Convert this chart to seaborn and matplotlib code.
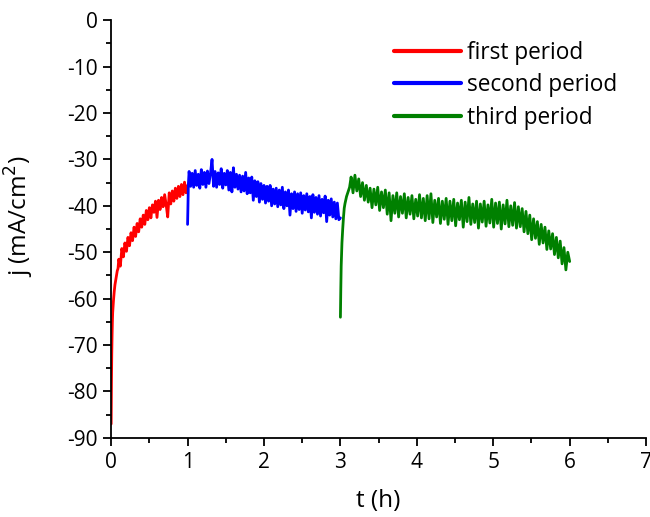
import matplotlib
matplotlib.use("Agg")
import matplotlib.pyplot as plt
from matplotlib.ticker import MultipleLocator
import numpy as np
import pandas as pd
import seaborn as sns

###################### data ######################
# first period: steep early rise, then noisy slow recovery (t in hours)
red_t_early = [0, 0.004, 0.008, 0.012, 0.016, 0.02, 0.03, 0.04, 0.05, 0.06, 0.07, 0.08, 0.09]
red_j_early = [-87, -78, -72, -68, -65, -63, -60.5, -58.5, -57, -56, -55, -54, -53.5]
red_j_late = [-51.5, -53.0, -49.2, -51.0, -48.0, -49.8, -46.8, -48.6, -45.8, -47.5,
              -44.6, -46.6, -43.8, -45.6, -42.8, -44.6, -42.0, -44.0, -41.0, -43.0,
              -40.4, -42.6, -39.8, -41.4, -39.0, -42.5, -38.8, -40.8, -38.2, -40.2,
              -37.6, -39.8, -42.4, -37.2, -39.6, -36.8, -39.0, -36.2, -38.4, -35.8,
              -38.0, -35.4, -37.6, -34.9, -37.2, -35.6]

# second period
blue_t_early = [1.0, 1.005, 1.01]
blue_j_early = [-44, -40, -35.5]
blue_j_late = [-32.6, -35.8, -33.0, -36.0, -32.4, -35.6, -33.2, -36.2, -32.2, -35.4,
               -32.8, -36.0, -32.5, -35.2, -33.0, -30.0, -35.8, -32.6, -36.0, -32.9,
               -35.4, -32.0, -36.2, -33.0, -35.5, -32.4, -36.6, -32.8, -37.0, -31.8,
               -36.0, -33.2, -36.4, -33.4, -37.0, -33.6, -36.8, -32.8, -37.4, -34.0,
               -37.2, -33.8, -38.8, -34.6, -38.0, -34.8, -39.2, -35.2, -38.6, -35.6,
               -39.4, -35.8, -39.0, -35.6, -40.0, -36.4, -39.6, -36.2, -40.2, -36.6,
               -39.8, -36.0, -40.6, -37.0, -40.0, -36.6, -42.0, -37.4, -40.6, -37.0,
               -41.2, -37.4, -40.8, -37.2, -41.6, -37.8, -40.9, -37.4, -41.3, -38.0,
               -42.6, -37.6, -41.4, -38.2, -41.8, -37.8, -42.2, -38.6, -41.5, -37.9,
               -43.4, -38.8, -42.0, -38.5, -42.4, -39.2, -42.8, -39.4, -43.0, -42.6]

# third period
green_t_early = [3.0, 3.005, 3.01, 3.02, 3.03, 3.04, 3.05, 3.06, 3.08, 3.10, 3.12]
green_j_early = [-64, -58, -53, -48, -45, -42.5, -40.5, -39.5, -38, -37, -36]
green_j_late = [-33.8, -37.2, -33.4, -36.8, -34.2, -38.0, -35.0, -38.8, -35.6, -39.2,
                -36.2, -40.4, -36.4, -39.8, -36.0, -41.0, -37.0, -40.4, -36.6, -41.8,
                -37.2, -43.2, -37.8, -41.6, -37.2, -42.4, -38.0, -41.6, -37.4, -42.6,
                -38.2, -41.8, -37.8, -42.8, -38.6, -42.2, -37.6, -42.6, -38.4, -43.2,
                -37.8, -42.8, -37.4, -43.6, -38.8, -42.4, -38.4, -43.8, -39.0, -42.9,
                -38.4, -44.0, -39.0, -43.2, -38.6, -44.3, -39.4, -43.0, -38.8, -44.6,
                -39.2, -43.4, -38.2, -44.0, -39.6, -43.6, -39.0, -44.8, -39.6, -43.5,
                -39.0, -44.4, -39.8, -43.7, -38.6, -44.6, -39.4, -43.8, -39.2, -45.0,
                -39.8, -43.9, -38.8, -44.5, -40.0, -44.2, -39.3, -44.8, -40.2, -44.5,
                -40.6, -45.6, -41.2, -46.0, -42.0, -47.3, -42.8, -47.0, -43.4, -48.3,
                -44.0, -48.0, -44.6, -49.4, -45.4, -49.3, -46.0, -50.5, -46.8, -51.2,
                -47.6, -52.5, -49.0, -53.8, -50.0, -52.0]

periods = ["first period", "second period", "third period"]
colors = ["#ff0000", "#0000ff", "#008000"]

###################### build long table ######################
def period_frame(name, t_early, j_early, t0, t1, j_late):
    t = list(t_early) + list(np.linspace(t0, t1, len(j_late)))
    j = list(j_early) + list(j_late)
    return pd.DataFrame({"t": t, "j": j, "period": name})

df = pd.concat([
    period_frame(periods[0], red_t_early, red_j_early, 0.10, 1.00, red_j_late),
    period_frame(periods[1], blue_t_early, blue_j_early, 1.02, 3.00, blue_j_late),
    period_frame(periods[2], green_t_early, green_j_early, 3.14, 6.00, green_j_late),
], ignore_index=True)

###################### plot ######################
sns.set_style("ticks")
plt.rcParams["font.family"] = ["Open Sans", "DejaVu Sans"]
plt.rcParams["axes.unicode_minus"] = False
for key in ["text.color", "axes.labelcolor", "xtick.color", "ytick.color"]:
    plt.rcParams[key] = "black"

fig = plt.figure(figsize=(6.5, 5.17), dpi=100)
ax = fig.add_axes([0.171, 0.153, 0.823, 0.808])

sns.lineplot(data=df, x="t", y="j", hue="period", palette=colors,
             estimator=None, sort=False, linewidth=2.0, ax=ax)

ax.set_xlim(0, 7)
ax.set_ylim(-90, 0)
ax.xaxis.set_major_locator(MultipleLocator(1))
ax.xaxis.set_minor_locator(MultipleLocator(0.5))
ax.yaxis.set_major_locator(MultipleLocator(10))
ax.yaxis.set_minor_locator(MultipleLocator(5))
ax.tick_params(which="major", length=6, width=1.3, labelsize=15, color="black")
ax.tick_params(which="minor", length=3.5, width=1.3, color="black")
ax.tick_params(axis="x", pad=4.5)
for s in ["left", "bottom"]:
    ax.spines[s].set_linewidth(1.3)
    ax.spines[s].set_color("black")
sns.despine(ax=ax)

ax.set_xlabel("t (h)", fontsize=17.5, labelpad=11)
ax.set_ylabel("j (mA/cm$^2$)", fontsize=17.5, labelpad=8)
ax.yaxis.set_label_coords(-0.14, 0.53)

leg = ax.legend(loc="upper right", frameon=False, fontsize=16.3,
                handlelength=2.95, handletextpad=0.25, labelspacing=0.38,
                bbox_to_anchor=(0.984, 1.0))
for line in leg.get_lines():
    line.set_linewidth(3)

fig.savefig("out.png", dpi=100)
